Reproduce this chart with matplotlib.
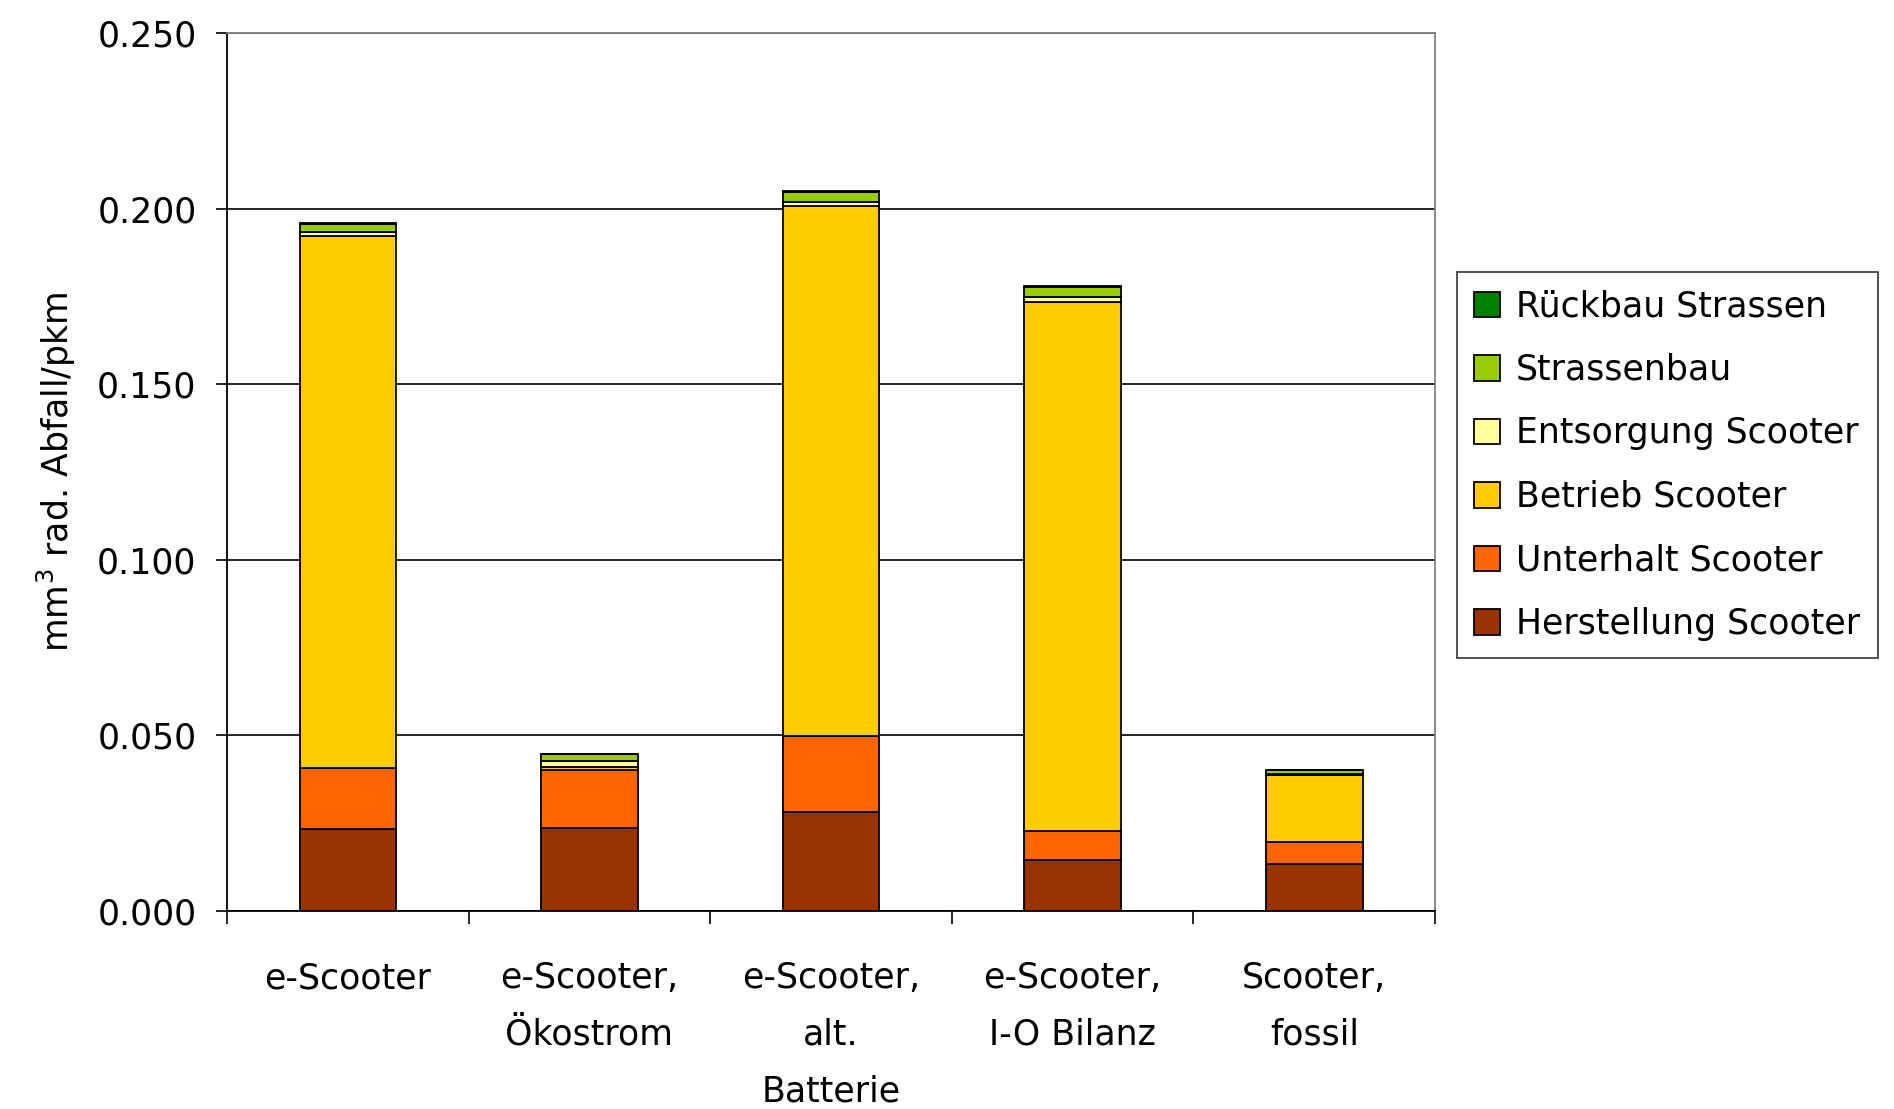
import numpy as np
import matplotlib.pyplot as plt
from matplotlib.ticker import FixedLocator, FormatStrFormatter

categories = ["e-Scooter", "e-Scooter,\nÖkostrom", "e-Scooter,\nalt.\nBatterie",
              "e-Scooter,\nI-O Bilanz", "Scooter,\nfossil"]

herstellung = [0.0235, 0.0236, 0.0282, 0.0145, 0.0133]
unterhalt = [0.0171, 0.0167, 0.0216, 0.0084, 0.0064]
betrieb = [0.1516, 0.0008, 0.1509, 0.1506, 0.0189]
entsorgung = [0.0012, 0.0015, 0.0013, 0.0013, 0.0003]
strassenbau = [0.0022, 0.0020, 0.0027, 0.0030, 0.0013]
rueckbau = [0.0002, 0.0002, 0.0002, 0.0002, 0.0001]

series = [
    ("Herstellung Scooter", herstellung, "#993300"),
    ("Unterhalt Scooter", unterhalt, "#FF6600"),
    ("Betrieb Scooter", betrieb, "#FFCC00"),
    ("Entsorgung Scooter", entsorgung, "#FFFF99"),
    ("Strassenbau", strassenbau, "#99CC00"),
    ("Rückbau Strassen", rueckbau, "#008000"),
]

plt.rcParams['font.family'] = ['DejaVu Sans']

fig = plt.figure(figsize=(18.94, 11.09), dpi=100)
ax = fig.add_axes([0.1199, 0.1785, 0.6378, 0.7917])

x = np.arange(len(categories))
bottom = np.zeros(len(categories))
handles = []
for name, vals, col in series:
    b = ax.bar(x, vals, 0.4, bottom=bottom, color=col, edgecolor="black",
               linewidth=1.3, label=name, zorder=3)
    handles.append(b)
    bottom += np.array(vals)

ax.set_xlim(-0.5, len(categories) - 0.5)
ax.set_ylim(0, 0.25)
ax.set_yticks(np.arange(0, 0.2501, 0.05))
ax.yaxis.set_major_formatter(FormatStrFormatter('%.3f'))
ax.grid(axis='y', color='black', linewidth=1.2, zorder=0)

ax.set_xticks(x)
ax.set_xticklabels(categories, linespacing=1.85, va='top')
ax.xaxis.set_minor_locator(FixedLocator(np.arange(-0.5, len(categories), 1.0)))
ax.tick_params(axis='x', which='major', length=0, pad=36, labelsize=25)
ax.tick_params(axis='x', which='minor', length=9, width=1.2, direction='out')
ax.tick_params(axis='y', length=8, width=1.2, direction='out', pad=14, labelsize=25)

for s in ['left', 'bottom']:
    ax.spines[s].set_color('black')
    ax.spines[s].set_linewidth(1.3)
for s in ['right', 'top']:
    ax.spines[s].set_color('#808080')
    ax.spines[s].set_linewidth(1.3)

ax.set_ylabel("mm$^3$ rad. Abfall/pkm", fontsize=25, labelpad=14)

leg = ax.legend(handles[::-1], [s[0] for s in series][::-1],
                loc='upper left', bbox_to_anchor=(0.7693, 0.7547),
                bbox_transform=fig.transFigure, fontsize=25, frameon=True,
                fancybox=False, edgecolor='black', handlelength=0.75,
                handleheight=0.75, handletextpad=0.45, labelspacing=0.85,
                borderpad=0.5, borderaxespad=0)
leg.get_frame().set_linewidth(1.2)

fig.savefig("out.png", dpi=100, facecolor='white')
